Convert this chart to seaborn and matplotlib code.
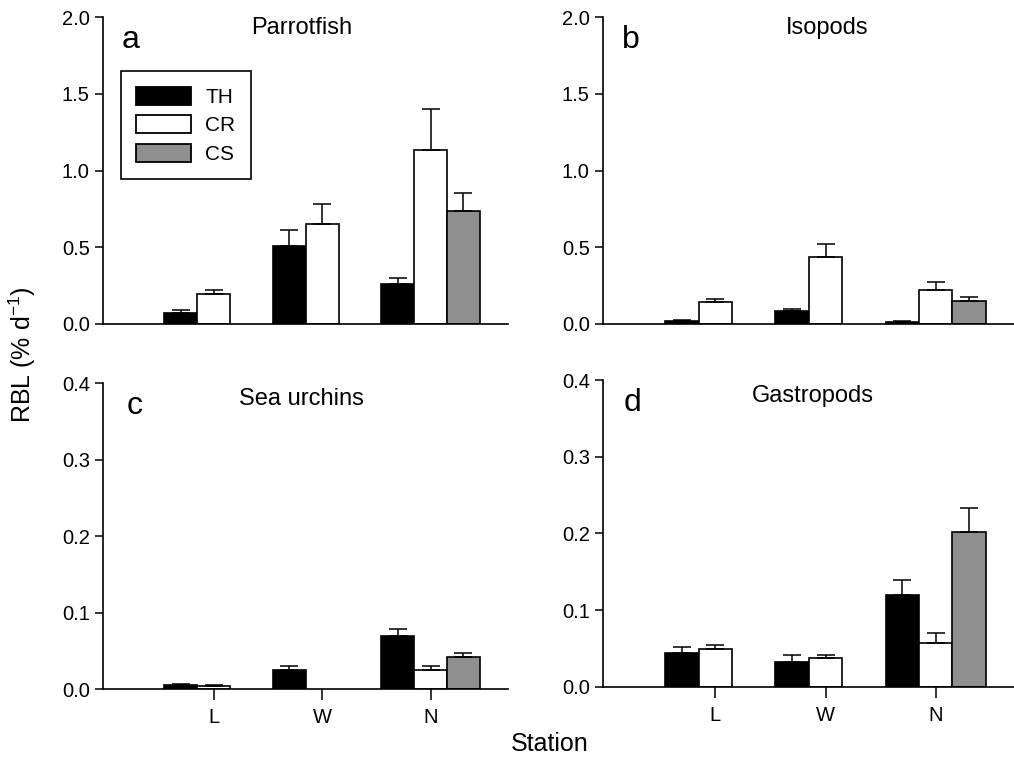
import numpy as np
import pandas as pd
import seaborn as sns
import matplotlib.pyplot as plt

stations = ["L", "W", "N"]
treatments = ["TH", "CR", "CS"]
groups = ["Parrotfish", "Isopods", "Sea urchins", "Gastropods"]
letters = ["a", "b", "c", "d"]

# mean RBL (% d-1) at stations L, W, N ; CS only at N
parrot_th = [0.074, 0.510, 0.258]
parrot_cr = [0.195, 0.649, 1.132]
parrot_cs = [np.nan, np.nan, 0.738]
parrot_th_se = [0.015, 0.102, 0.042]
parrot_cr_se = [0.026, 0.132, 0.269]
parrot_cs_se = [np.nan, np.nan, 0.117]

iso_th = [0.020, 0.087, 0.015]
iso_cr = [0.143, 0.434, 0.219]
iso_cs = [np.nan, np.nan, 0.150]
iso_th_se = [0.006, 0.008, 0.004]
iso_cr_se = [0.017, 0.084, 0.054]
iso_cs_se = [np.nan, np.nan, 0.024]

urchin_th = [0.0052, 0.0252, 0.0687]
urchin_cr = [0.0040, np.nan, 0.0248]
urchin_cs = [np.nan, np.nan, 0.0413]
urchin_th_se = [0.0013, 0.0044, 0.0100]
urchin_cr_se = [0.0008, np.nan, 0.0056]
urchin_cs_se = [np.nan, np.nan, 0.0061]

gastro_th = [0.0439, 0.0326, 0.1200]
gastro_cr = [0.0496, 0.0374, 0.0574]
gastro_cs = [np.nan, np.nan, 0.2017]
gastro_th_se = [0.0087, 0.0096, 0.0190]
gastro_cr_se = [0.0056, 0.0043, 0.0135]
gastro_cs_se = [np.nan, np.nan, 0.0318]

means = {"Parrotfish": [parrot_th, parrot_cr, parrot_cs],
         "Isopods": [iso_th, iso_cr, iso_cs],
         "Sea urchins": [urchin_th, urchin_cr, urchin_cs],
         "Gastropods": [gastro_th, gastro_cr, gastro_cs]}
errors = {"Parrotfish": [parrot_th_se, parrot_cr_se, parrot_cs_se],
          "Isopods": [iso_th_se, iso_cr_se, iso_cs_se],
          "Sea urchins": [urchin_th_se, urchin_cr_se, urchin_cs_se],
          "Gastropods": [gastro_th_se, gastro_cr_se, gastro_cs_se]}

rows = []
for g in groups:
    for t, vals, ses in zip(treatments, means[g], errors[g]):
        for s, v, e in zip(stations, vals, ses):
            rows.append({"group": g, "station": s, "treatment": t, "rbl": v, "se": e})
df = pd.DataFrame(rows).dropna()

sns.set_style("ticks")
plt.rcParams['font.family'] = ['Liberation Sans', 'DejaVu Sans']
plt.rcParams['mathtext.fontset'] = 'custom'
plt.rcParams['mathtext.rm'] = 'Liberation Sans'
plt.rcParams['axes.linewidth'] = 1.2
for key in ['text.color', 'axes.labelcolor', 'xtick.color', 'ytick.color', 'axes.edgecolor']:
    plt.rcParams[key] = 'black'

colors = {"TH": "black", "CR": "white", "CS": "#8f8f8f"}

fig = plt.figure(figsize=(10.14, 7.57), dpi=100)
boxes = [[0.1016, 0.572, 0.399, 0.4055],
         [0.5947, 0.572, 0.4053, 0.4055],
         [0.1016, 0.0898, 0.399, 0.404],
         [0.5947, 0.0925, 0.4053, 0.4055]]
title_x = [0.49, 0.545, 0.49, 0.51]
letter_x = [0.045, 0.045, 0.058, 0.05]

for i, g in enumerate(groups):
    ax = fig.add_axes(boxes[i])
    sub = df[df["group"] == g]
    sns.barplot(data=sub, x="station", y="rbl", hue="treatment", order=stations,
                hue_order=treatments, palette=colors, width=0.91, edgecolor="black",
                linewidth=1.2, errorbar=None, ax=ax, legend=(i == 0))

    # upper error bars only
    present = [t for t in treatments if t in sub["treatment"].values]
    for cont, t in zip(ax.containers, present):
        for bar in cont:
            xc = bar.get_x() + bar.get_width() / 2
            h = bar.get_height()
            st = stations[int(round(xc))]
            se = sub[(sub["station"] == st) & (sub["treatment"] == t)]["se"].values[0]
            ax.errorbar(xc, h, yerr=[[0], [se]], fmt="none", ecolor="black",
                        elinewidth=1.1, capsize=6.5, capthick=1.1, zorder=1)

    ax.set_xlim(-1.02, 2.71)
    top = i < 2
    ax.set_ylim(0, 2.0 if top else 0.4)
    ax.set_yticks(np.arange(0, 2.01, 0.5) if top else np.arange(0, 0.41, 0.1))
    ax.set_xlabel("")
    ax.set_ylabel("")
    ax.tick_params(axis="y", direction="out", length=6, width=1.1, labelsize=14.5)
    if top:
        ax.tick_params(axis="x", bottom=False, labelbottom=False)
    else:
        ax.tick_params(axis="x", direction="out", length=8, width=1.1, labelsize=14.5, pad=6)
    sns.despine(ax=ax)

    ax.text(title_x[i], 0.945 if top else 0.93, g, transform=ax.transAxes,
            ha="center", va="baseline", fontsize=17)
    ax.text(letter_x[i], 0.9, letters[i], transform=ax.transAxes,
            ha="left", va="baseline", fontsize=23)

    if i == 0:
        leg = ax.get_legend()
        handles = leg.legend_handles
        labels = [t.get_text() for t in leg.get_texts()]
        for h in handles:
            h.set_edgecolor("black")
            h.set_linewidth(1.3)
        ax.legend(handles, labels, loc="upper left", bbox_to_anchor=(0.044, 0.824),
                  borderaxespad=0, frameon=True, fancybox=False, edgecolor="black",
                  framealpha=1, fontsize=15, handlelength=2.6, handleheight=0.95,
                  handletextpad=0.7, labelspacing=0.4, borderpad=0.75)
        ax.get_legend().get_frame().set_linewidth(1.2)

fig.text(0.022, 0.531, "RBL (% d$^{-1}$)", rotation=90, ha="center", va="center", fontsize=18)
fig.text(0.542, 0.017, "Station", ha="center", va="center", fontsize=18)

fig.savefig("out.png", dpi=100)
